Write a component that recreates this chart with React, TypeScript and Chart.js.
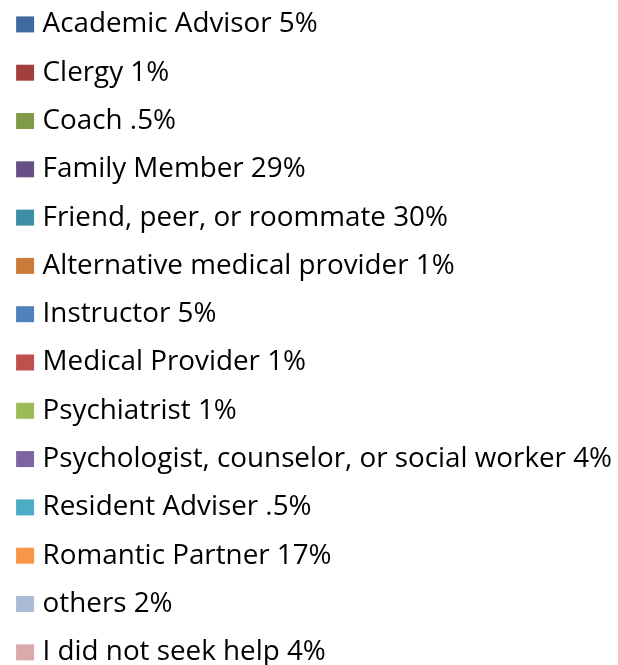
import React, { useEffect, useRef } from "react";
import { Chart, registerables } from "chart.js";

Chart.register(...registerables);

const categories: string[] = [
  "Academic Advisor 5%",
  "Clergy 1%",
  "Coach .5%",
  "Family Member 29%",
  "Friend, peer, or roommate 30%",
  "Alternative medical provider 1%",
  "Instructor 5%",
  "Medical Provider 1%",
  "Psychiatrist 1%",
  "Psychologist, counselor, or social worker 4%",
  "Resident Adviser .5%",
  "Romantic Partner 17%",
  "others 2%",
  "I did not seek help 4%",
];

const values: number[] = [5, 1, 0.5, 29, 30, 1, 5, 1, 1, 4, 0.5, 17, 2, 4];

const colors: string[] = [
  "#3F6A9F",
  "#A23F3D",
  "#7F9B49",
  "#684F86",
  "#3B8EA5",
  "#CC7A37",
  "#4F81BD",
  "#C0504D",
  "#9BBB59",
  "#8064A2",
  "#4BACC6",
  "#F79646",
  "#AABAD7",
  "#D9AAA9",
];

const CANVAS_W = 660;
const CANVAS_H = 740;

export default function App() {
  const ref = useRef<HTMLCanvasElement | null>(null);

  useEffect(() => {
    if (!ref.current) return;
    const chart = new Chart(ref.current, {
      type: "pie",
      data: {
        labels: categories,
        datasets: [
          {
            data: values,
            backgroundColor: colors,
            borderWidth: 0,
            radius: 0,
          },
        ],
      },
      options: {
        animation: false,
        responsive: false,
        devicePixelRatio: 1,
        layout: { padding: 0 },
        plugins: {
          tooltip: { enabled: false },
          legend: {
            display: true,
            position: "left",
            align: "start",
            maxWidth: CANVAS_W,
            labels: {
              color: "#000000",
              font: { family: "'Open Sans', sans-serif", size: 27.8 },
              boxWidth: 7.2,
              boxHeight: 5.2,
              padding: 20.5,
              generateLabels: (c: any) =>
                (c.data.labels as string[]).map((text: string, i: number) => ({
                  text,
                  fillStyle: colors[i],
                  strokeStyle: colors[i],
                  lineWidth: 10.8,
                  lineJoin: "miter",
                  hidden: false,
                  index: i,
                })),
            },
          },
        },
      },
    });
    return () => chart.destroy();
  }, []);

  return (
    <div
      style={{
        position: "fixed",
        top: 0,
        left: 0,
        width: 618,
        height: 665,
        overflow: "hidden",
        background: "#ffffff",
      }}
    >
      <canvas
        ref={ref}
        width={CANVAS_W}
        height={CANVAS_H}
        style={{ position: "absolute", left: 1, top: -10, width: CANVAS_W, height: CANVAS_H }}
      />
    </div>
  );
}
